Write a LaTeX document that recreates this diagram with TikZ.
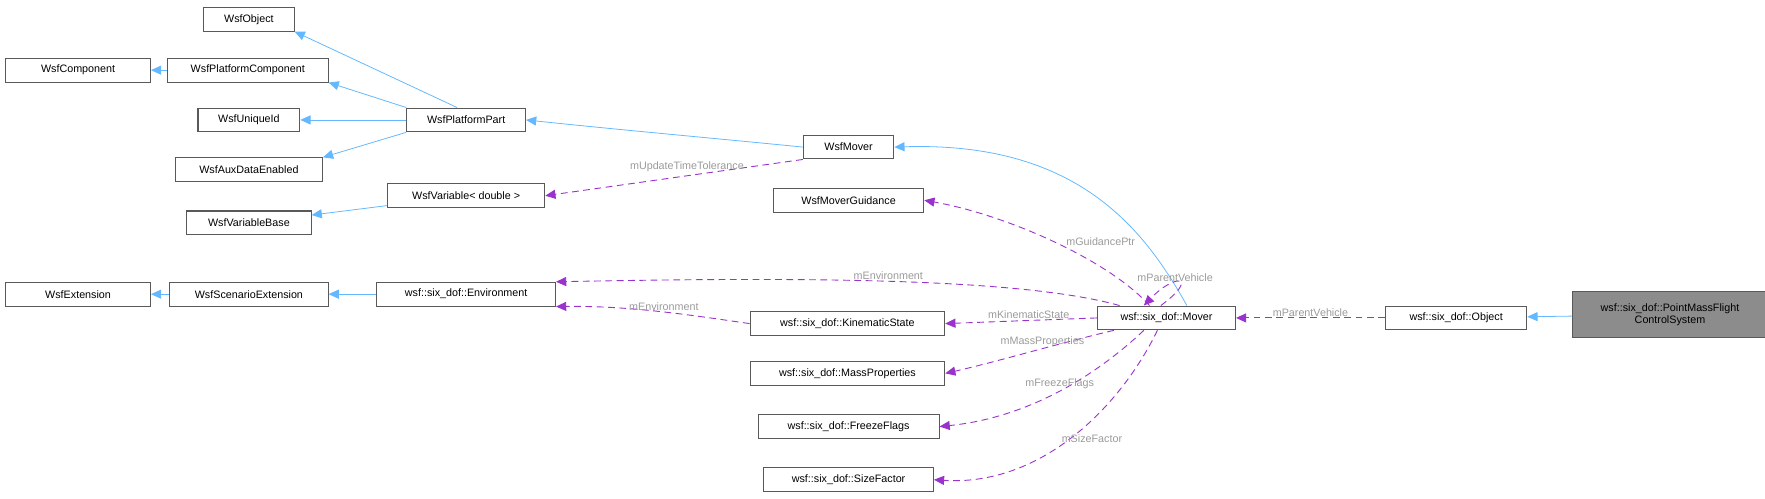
\documentclass[tikz,border=0pt]{standalone}
\usepackage{fontspec}
\setmainfont{Liberation Sans}
\usetikzlibrary{arrows.meta}
\definecolor{inh}{HTML}{63B8FF}
\definecolor{usg}{HTML}{9A32CD}
\definecolor{lbl}{HTML}{9A9A9A}
\begin{document}
\begin{tikzpicture}[x=1pt,y=-1pt,
  box/.style={draw=black!65,line width=0.9pt,fill=white,minimum height=21,inner sep=2pt,font=\fontsize{9.5}{11}\selectfont},
  inh/.style={draw=inh,line width=0.7pt,-{Triangle[length=9pt,width=8pt]}},
  usg/.style={draw=usg,line width=0.8pt,dash pattern=on 6pt off 4pt,-{Triangle[length=9pt,width=8pt]}},
  lb/.style={text=lbl,font=\fontsize{9.5}{11}\selectfont,inner sep=1pt}]
\useasboundingbox (0,0) rectangle (1560,441);
\node[box,minimum width=80] (obj) at (220,17) {WsfObject};
\node[box,minimum width=128] (comp) at (69,62) {WsfComponent};
\node[box,minimum width=142] (pcomp) at (219,62) {WsfPlatformComponent};
\node[box,minimum width=90] (uid) at (220,106) {WsfUniqueId};
\node[box,minimum width=105] (ppart) at (412,106) {WsfPlatformPart};
\node[box,minimum width=130] (aux) at (220,150) {WsfAuxDataEnabled};
\node[box,minimum width=80] (wmov) at (750,130) {WsfMover};
\node[box,minimum width=139] (var) at (412,173) {WsfVariable< double >};
\node[box,minimum width=110] (varb) at (220,197) {WsfVariableBase};
\node[box,minimum width=133] (guid) at (750,177) {WsfMoverGuidance};
\node[box,minimum width=128] (ext) at (69,260) {WsfExtension};
\node[box,minimum width=140] (sext) at (220,260) {WsfScenarioExtension};
\node[box,minimum width=158] (env) at (412,260) {wsf::six\_dof::Environment};
\node[box,minimum width=172] (kin) at (749,286) {wsf::six\_dof::KinematicState};
\node[box,minimum width=122] (mov) at (1031,281) {wsf::six\_dof::Mover};
\node[box,minimum width=172] (mass) at (749,330) {wsf::six\_dof::MassProperties};
\node[box,minimum width=160] (frz) at (750,377) {wsf::six\_dof::FreezeFlags};
\node[box,minimum width=150] (size) at (750,424) {wsf::six\_dof::SizeFactor};
\node[box,minimum width=125] (sobj) at (1287,281) {wsf::six\_dof::Object};
\node[box,minimum width=172,minimum height=41,fill=black!45,align=center] (pm) at (1476,278) {wsf::six\_dof::PointMassFlight\\ControlSystem};
\path (ppart.north) ++(-8,0) coordinate (p1);
\path (mov.north) ++(18,0) coordinate (m1);
\path (mov.north) ++(-15,0) coordinate (m2);
\path (mov.north west) ++(20,0) coordinate (m3);
\path (mov.south west) ++(15,0) coordinate (m4);
\path (mov.south) ++(-20,0) coordinate (m5);
\path (mov.south) ++(-8,0) coordinate (m6);
\path (mov.north) ++(-5,0) coordinate (m7);
\path (mov.north) ++(-20,0) coordinate (m8);
% inheritance
\draw[inh] (pcomp) -- (comp);
\draw[inh] (p1) -- (obj.south east);
\draw[inh] (ppart.north west) -- (pcomp.south east);
\draw[inh] (ppart) -- (uid);
\draw[inh] (ppart.south west) -- (aux.north east);
\draw[inh] (wmov.west) .. controls (640,123) and (550,115) .. (ppart.east);
\draw[inh] (var) -- (varb);
\draw[inh] (sext) -- (ext);
\draw[inh] (env) -- (sext);
\draw[inh] (m1) .. controls (1010,200) and (950,125) .. (wmov.east);
\draw[inh] (pm) -- (sobj);
% usage
\draw[usg] (wmov.south west) -- node[lb,above=2pt,pos=0.45]{mUpdateTimeTolerance} (var.east);
\draw[usg] (m2) .. controls (980,230) and (890,190) .. node[lb,above right,pos=0.45]{mGuidancePtr} (guid.east);
\draw[usg] (m3) .. controls (900,245) and (700,245) .. node[lb,above,pos=0.5]{mEnvironment} (env.north east);
\draw[usg] (kin.west) .. controls (620,280) and (560,270) .. node[lb,above,pos=0.5]{mEnvironment} (env.south east);
\draw[usg] (mov.west) -- node[lb,above,pos=0.45]{mKinematicState} (kin.east);
\draw[usg] (m4) .. controls (930,305) and (880,320) .. node[lb,above,pos=0.4]{mMassProperties} (mass.east);
\draw[usg] (m5) .. controls (960,340) and (900,370) .. node[lb,above,pos=0.45]{mFreezeFlags} (frz.east);
\draw[usg] (m6) .. controls (990,360) and (920,430) .. node[lb,above right,pos=0.55]{mSizeFactor} (size.east);
\draw[usg] (m7) .. controls (1060,245) and (1040,240) .. node[lb,above,pos=0.6]{mParentVehicle} (m8);
\draw[usg] (sobj.west) -- node[lb,above]{mParentVehicle} (mov.east);
\end{tikzpicture}
\end{document}
